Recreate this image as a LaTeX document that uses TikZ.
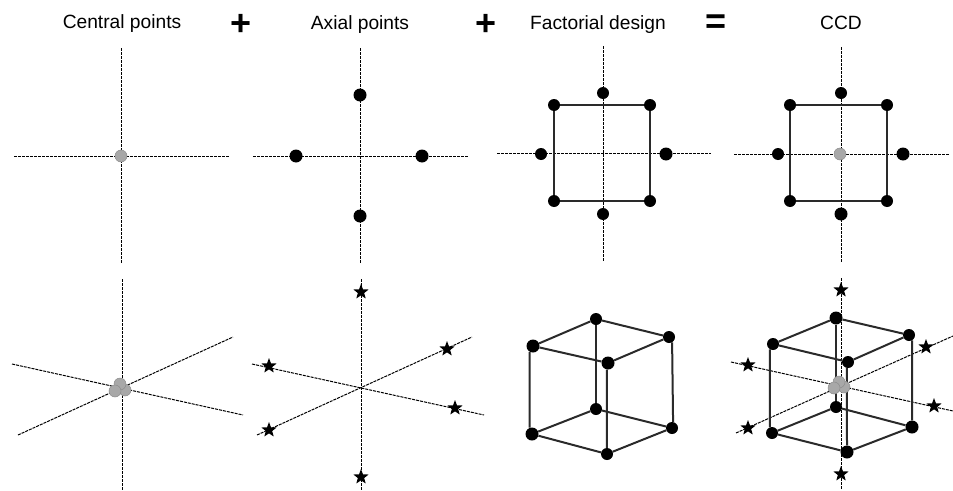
\documentclass[tikz,border=0pt]{standalone}
\usepackage{fontspec}
\setmainfont{Liberation Sans}
\usetikzlibrary{shapes.geometric,backgrounds}
\definecolor{ptgray}{HTML}{A8A8A8}
\definecolor{edgegray}{HTML}{2A2A2A}
\tikzset{
  title/.style={font=\fontsize{19.2}{21}\selectfont,text=black,inner sep=0pt,anchor=center},
  opsign/.style={font=\bfseries\fontsize{36}{38}\selectfont,text=black,inner sep=0pt,anchor=center},
  axisline/.style={draw=black,line width=1pt,dash pattern=on 3pt off 1pt},
  edgeline/.style={draw=edgegray,line width=2pt},
  squareline/.style={draw=edgegray,line width=2.4pt},
  blackdot/.style={circle,fill=black,draw=none,inner sep=0pt,minimum size=13pt},
  smalldot/.style={circle,fill=black,draw=none,inner sep=0pt,minimum size=12pt},
  graydot/.style={circle,fill=ptgray,draw=gray!90,line width=0.5pt,inner sep=0pt,minimum size=12pt},
  starpt/.style={star,star points=5,star point ratio=2.4,fill=black,draw=none,inner sep=0pt,minimum size=16pt},
}
\begin{document}
\begin{tikzpicture}[x=1pt,y=-1pt]
\useasboundingbox (0,0) rectangle (953,490);
% titles
\node[title] (t1) at (122,24) {Central points};
\node[title] (t2) at (360,25) {Axial points};
\node[title] (t3) at (598,25) {Factorial design};
\node[title] (t4) at (841,22.5) {CCD};
\node[opsign] (p1) at (241,25) {+};
\node[opsign] (p2) at (486,25) {+};
\node[opsign] (p3) at (716,24) {=};
% axes end points
\foreach \n/\x/\y in {
 aL/14/156,aR/229/156,aT/121/48,aB/121/264,
 bL/253/156,bR/468/156,bT/360/48,bB/360/264,
 cL/497/153,cR/711/153,cT/603/46,cB/603/262,
 dL/734/154,dR/949/154,dT/841/47,dB/841/262,
 eT/122/279,eB/122/490,eA1/12/364,eA2/243/415,eC1/18/435,eC2/233/337,
 fT/361/279,fB/361/490,fA1/252/364,fA2/484/415,fC1/257/435,fC2/472/337,
 hT/841/278,hB/841/490,hA1/731/362,hA2/953/411,hC1/736/433,hC2/953/336}
 {\coordinate (\n) at (\x,\y);}
% panel 2 top
\node[blackdot] (b1) at (296,156) {};
\node[blackdot] (b2) at (422,156) {};
\node[blackdot] (b3) at (360,95) {};
\node[blackdot] (b4) at (360,216) {};
% panel 3 top
\node[smalldot] (c1) at (554,105) {};
\node[smalldot] (c2) at (650,105) {};
\node[smalldot] (c3) at (650,201) {};
\node[smalldot] (c4) at (554,201) {};
\node[smalldot] (c5) at (603,93) {};
\node[smalldot] (c6) at (603,214) {};
\node[smalldot] (c7) at (541,154) {};
\node[blackdot] (c8) at (666,154) {};
% panel 4 top
\node[smalldot] (d1) at (790,105) {};
\node[smalldot] (d2) at (887,105) {};
\node[smalldot] (d3) at (887,201) {};
\node[smalldot] (d4) at (790,201) {};
\node[smalldot] (d5) at (841,93) {};
\node[blackdot] (d6) at (841,214) {};
\node[smalldot] (d7) at (778,154) {};
\node[blackdot] (d8) at (903,154) {};
% gray centres
\node[graydot] (a0) at (121,156) {};
\node[graydot] (d0) at (840,154) {};
% bottom stars
\foreach \n/\x/\y in {f1/361/292,f2/361/477,f3/269/366,f4/455/408,f5/447/349,f6/269/430,
  h1/841/290,h2/841/474,h3/748/365,h4/934/406,h5/926/347,h6/748/428}
 {\node[starpt] (\n) at (\x,\y) {};}
% factorial cube
\node[smalldot] (g1) at (596,319) {};
\node[smalldot] (g2) at (669,337) {};
\node[blackdot] (g3) at (533,346) {};
\node[blackdot] (g4) at (608,363) {};
\node[smalldot] (g5) at (596,409) {};
\node[smalldot] (g6) at (672,428) {};
\node[blackdot] (g7) at (532,434) {};
\node[smalldot] (g8) at (607,454) {};
% CCD cube
\node[blackdot] (k1) at (836,318) {};
\node[smalldot] (k2) at (909,335) {};
\node[smalldot] (k3) at (773,344) {};
\node[smalldot] (k4) at (848,362) {};
\node[smalldot] (k5) at (836,407) {};
\node[blackdot] (k6) at (912,427) {};
\node[smalldot] (k7) at (772,433) {};
\node[blackdot] (k8) at (847,452) {};
% gray clusters
\node[graydot] (e1) at (125,390) {};
\node[graydot] (e2) at (120,384) {};
\node[graydot] (e3) at (115,391) {};
\node[graydot] (h7) at (844,387) {};
\node[graydot] (h8) at (839,382) {};
\node[graydot] (h9) at (834,388) {};
\begin{scope}[on background layer]
 \foreach \p/\q in {aL/aR,aT/aB,bL/bR,bT/bB,cL/cR,cT/cB,dL/dR,dT/dB,
   eT/eB,eA1/eA2,eC1/eC2,fT/fB,fA1/fA2,fC1/fC2,hT/hB,hA1/hA2,hC1/hC2}
  {\draw[axisline] (\p) -- (\q);}
 \foreach \p/\q in {c1/c2,c2/c3,c3/c4,c4/c1,d1/d2,d2/d3,d3/d4,d4/d1}
  {\draw[squareline] (\p) -- (\q);}
 \foreach \p/\q in {g1/g2,g2/g4,g4/g3,g3/g1,g5/g6,g6/g8,g8/g7,g7/g5,g1/g5,
   g2.300/g6.80,g3.240/g7.110,g4.260/g8,
   k1/k2,k2/k4,k4/k3,k3/k1,k5/k6,k6/k8,k8/k7,k7/k5,k1/k5,
   k2.300/k6,k3.240/k7.110,k4.260/k8}
  {\draw[edgeline] (\p) -- (\q);}
\end{scope}
\end{tikzpicture}
\end{document}
